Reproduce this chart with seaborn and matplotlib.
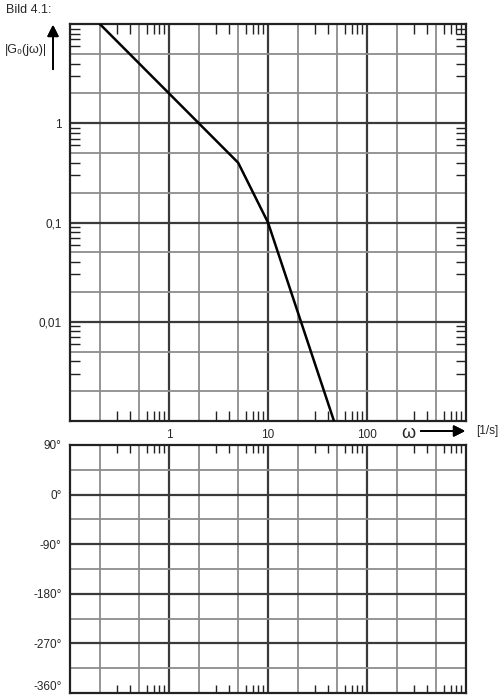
import numpy as np
import pandas as pd
import seaborn as sns
import matplotlib.pyplot as plt
from matplotlib.ticker import FixedLocator, NullFormatter, NullLocator

# Asymptotic magnitude curve |G0(jw)| (corner points)
omega = [0.2, 5, 10, 46.4]
gain = [10, 0.4, 0.1, 0.001]

# axis ranges / labels
w_range = (0.1, 1000)
g_range = (0.001, 10)
x_ticks = [1, 10, 100]
x_labels = ["1", "10", "100"]
g_ticks = [1, 0.1, 0.01]
g_labels = ["1", "0,1", "0,01"]
phase_ticks = [90, 0, -90, -180, -270, -360]
phase_labels = ["90°", "0°", "-90°", "-180°", "-270°", "-360°"]

sns.set_style("white")
plt.rcParams["font.family"] = ["Liberation Sans", "DejaVu Sans"]
plt.rcParams["font.size"] = 8.5

fig = plt.figure(figsize=(5, 6.98), dpi=100)
ax1 = fig.add_axes([0.14, 0.3968, 0.792, 0.5688])
ax2 = fig.add_axes([0.14, 0.0072, 0.792, 0.3553])

dark = "#3a3a3a"
light = "#8c8c8c"
decades = [0.1, 1, 10, 100, 1000]
minor_pos = [k * d for d in decades[:-1] for k in (3, 4, 6, 7, 8, 9)]

for ax in (ax1, ax2):
    ax.set_xscale("log")
    ax.set_xlim(*w_range)
    for d in decades[:-1]:
        ax.axvline(2 * d, color=light, lw=1.3, zorder=1)
        ax.axvline(5 * d, color=light, lw=1.3, zorder=1)
        if d > 0.1:
            ax.axvline(d, color=dark, lw=1.6, zorder=1)
    ax.xaxis.set_minor_locator(FixedLocator(minor_pos))
    ax.xaxis.set_minor_formatter(NullFormatter())
    ax.tick_params(axis="x", which="minor", direction="in", top=True, bottom=True,
                   length=7, width=1, color="#222222")
    for s in ax.spines.values():
        s.set_color("#222222")
        s.set_linewidth(1.6)

# magnitude plot
ax1.set_yscale("log")
ax1.set_ylim(*g_range)
for d in [0.001, 0.01, 0.1, 1]:
    ax1.axhline(2 * d, color=light, lw=1.3, zorder=1)
    ax1.axhline(5 * d, color=light, lw=1.3, zorder=1)
    if d > 0.001:
        ax1.axhline(d, color=dark, lw=1.6, zorder=1)
ax1.xaxis.set_major_locator(FixedLocator(x_ticks))
ax1.set_xticklabels(x_labels)
ax1.yaxis.set_major_locator(FixedLocator(g_ticks))
ax1.set_yticklabels(g_labels)
ax1.yaxis.set_minor_locator(FixedLocator([k * d for d in [0.001, 0.01, 0.1, 1] for k in (3, 4, 6, 7, 8, 9)]))
ax1.yaxis.set_minor_formatter(NullFormatter())
ax1.tick_params(axis="y", which="minor", direction="in", left=True, right=True,
                length=7, width=1, color="#222222")
ax1.tick_params(which="major", length=0, pad=6, labelsize=8.5)

df = pd.DataFrame({"omega": omega, "gain": gain})
sns.lineplot(data=df, x="omega", y="gain", ax=ax1, color="black", lw=1.8,
             zorder=5, sort=False)
ax1.set_xlabel("")
ax1.set_ylabel("")

# phase plot (empty)
ax2.set_ylim(-360, 90)
for p in range(-315, 90, 45):
    ax2.axhline(p, color=dark if p % 90 == 0 else light, lw=1.6 if p % 90 == 0 else 1.3, zorder=1)
ax2.yaxis.set_major_locator(FixedLocator(phase_ticks))
ax2.set_yticklabels(phase_labels)
ax2.xaxis.set_major_locator(NullLocator())
ax2.tick_params(which="major", length=0, pad=6, labelsize=8.5)
ax2.tick_params(axis="x", which="minor", length=6)
ax2.get_yticklabels()[-1].set_va("bottom")

# annotations
fig.text(6 / 500, 1 - 10 / 698, "Bild 4.1:", fontsize=9, va="center", ha="left")
fig.text(5 / 500, 1 - 50 / 698, "|G₀(jω)|", fontsize=9, va="center", ha="left")
fig.text(408 / 500, 1 - 433 / 698, "ω", fontsize=13, va="center", ha="center")
fig.text(476 / 500, 1 - 431 / 698, "[1/s]", fontsize=8.5, va="center", ha="left")
fig.add_artist(plt.annotate("", xy=(53, 698 - 22), xytext=(53, 698 - 72),
                            xycoords="figure pixels", textcoords="figure pixels",
                            arrowprops=dict(arrowstyle="-|>", color="black", lw=1.3,
                                            mutation_scale=17)))
fig.add_artist(plt.annotate("", xy=(468, 698 - 431), xytext=(418, 698 - 431),
                            xycoords="figure pixels", textcoords="figure pixels",
                            arrowprops=dict(arrowstyle="-|>", color="black", lw=1.3,
                                            mutation_scale=17)))

fig.savefig("out.png", dpi=100)
